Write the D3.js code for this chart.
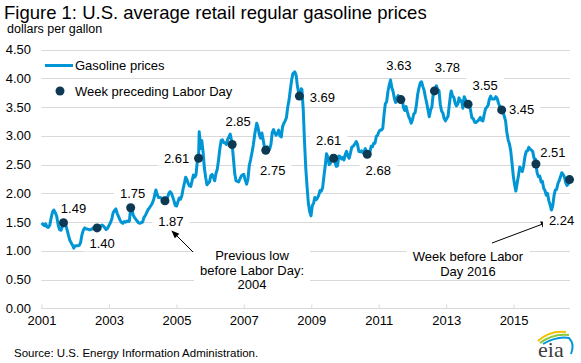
<!DOCTYPE html>
<html>
<head>
<meta charset="utf-8">
<script src="https://cdn.jsdelivr.net/npm/d3@7"></script>
<style>
  html, body { margin: 0; padding: 0; background: #fff; }
  svg { display: block; font-family: "Liberation Sans", Arial, sans-serif; }
</style>
</head>
<body>
<svg id="chart" width="581" height="363"></svg>
<script>
/* Figure 1: U.S. average retail regular gasoline prices */

// weekly price series (roughly semi-monthly)
const priceDates = [
  "2001-01-01","2001-01-15","2001-02-01","2001-02-15","2001-03-01","2001-03-15","2001-04-01","2001-04-15",
  "2001-05-01","2001-05-14","2001-06-01","2001-06-15","2001-07-01","2001-07-15","2001-08-01","2001-08-13",
  "2001-08-27","2001-09-10","2001-09-24","2001-10-08","2001-10-22","2001-11-05","2001-11-19","2001-12-03",
  "2001-12-17","2002-01-01","2002-01-15","2002-02-01","2002-02-15","2002-03-01","2002-03-15","2002-04-01",
  "2002-04-15","2002-05-01","2002-05-15","2002-06-01","2002-06-15","2002-07-01","2002-07-15","2002-08-01",
  "2002-08-15","2002-08-26","2002-09-09","2002-09-23","2002-10-07","2002-10-21","2002-11-04","2002-11-18",
  "2002-12-02","2002-12-16","2003-01-01","2003-01-15","2003-02-01","2003-02-15","2003-03-01","2003-03-17",
  "2003-04-01","2003-04-15","2003-05-01","2003-05-15","2003-06-01","2003-06-15","2003-07-01","2003-07-15",
  "2003-08-01","2003-08-11","2003-08-25","2003-09-08","2003-09-22","2003-10-06","2003-10-20","2003-11-03",
  "2003-11-17","2003-12-01","2003-12-15","2004-01-01","2004-01-15","2004-02-01","2004-02-15","2004-03-01",
  "2004-03-15","2004-04-01","2004-04-15","2004-05-01","2004-05-24","2004-06-07","2004-06-21","2004-07-05",
  "2004-07-19","2004-08-02","2004-08-16","2004-08-30","2004-09-13","2004-09-27","2004-10-11","2004-10-25",
  "2004-11-08","2004-11-22","2004-12-06","2004-12-20","2005-01-03","2005-01-17","2005-02-01","2005-02-15",
  "2005-03-01","2005-03-15","2005-04-01","2005-04-11","2005-04-25","2005-05-09","2005-05-23","2005-06-06",
  "2005-06-20","2005-07-04","2005-07-18","2005-08-01","2005-08-15","2005-08-29","2005-09-05","2005-09-12",
  "2005-09-19","2005-09-26","2005-10-03","2005-10-17","2005-10-31","2005-11-14","2005-11-28","2005-12-12",
  "2005-12-26","2006-01-09","2006-01-23","2006-02-06","2006-02-20","2006-03-06","2006-03-20","2006-04-03",
  "2006-04-17","2006-05-01","2006-05-15","2006-05-29","2006-06-12","2006-06-26","2006-07-10","2006-07-24",
  "2006-08-07","2006-08-21","2006-08-28","2006-09-11","2006-09-25","2006-10-09","2006-10-23","2006-11-06",
  "2006-11-20","2006-12-04","2006-12-18","2007-01-01","2007-01-15","2007-02-01","2007-02-15","2007-03-01",
  "2007-03-15","2007-04-01","2007-04-15","2007-05-01","2007-05-21","2007-06-04","2007-06-18","2007-07-02",
  "2007-07-16","2007-07-30","2007-08-13","2007-08-27","2007-09-10","2007-09-24","2007-10-08","2007-10-22",
  "2007-11-05","2007-11-19","2007-12-03","2007-12-17","2008-01-01","2008-01-14","2008-01-28","2008-02-11",
  "2008-02-25","2008-03-10","2008-03-24","2008-04-07","2008-04-21","2008-05-05","2008-05-19","2008-06-02",
  "2008-06-16","2008-07-07","2008-07-21","2008-08-04","2008-08-18","2008-08-25","2008-09-08","2008-09-15",
  "2008-09-22","2008-10-06","2008-10-20","2008-11-03","2008-11-17","2008-12-01","2008-12-15","2008-12-29",
  "2009-01-12","2009-01-26","2009-02-09","2009-02-23","2009-03-09","2009-03-23","2009-04-06","2009-04-20",
  "2009-05-04","2009-05-18","2009-06-01","2009-06-15","2009-06-29","2009-07-13","2009-07-27","2009-08-10",
  "2009-08-24","2009-08-31","2009-09-14","2009-09-28","2009-10-12","2009-10-26","2009-11-09","2009-11-23",
  "2009-12-07","2009-12-21","2010-01-04","2010-01-18","2010-02-01","2010-02-15","2010-03-01","2010-03-15",
  "2010-04-05","2010-04-19","2010-05-03","2010-05-17","2010-05-31","2010-06-14","2010-06-28","2010-07-12",
  "2010-07-26","2010-08-09","2010-08-23","2010-08-30","2010-09-13","2010-09-27","2010-10-11","2010-10-25",
  "2010-11-08","2010-11-22","2010-12-06","2010-12-20","2011-01-03","2011-01-17","2011-01-31","2011-02-14",
  "2011-02-28","2011-03-14","2011-03-28","2011-04-11","2011-04-25","2011-05-09","2011-05-23","2011-06-06",
  "2011-06-20","2011-07-04","2011-07-18","2011-08-01","2011-08-15","2011-08-29","2011-09-12","2011-09-26",
  "2011-10-10","2011-10-24","2011-11-07","2011-11-21","2011-12-05","2011-12-19","2012-01-02","2012-01-16",
  "2012-01-30","2012-02-13","2012-02-27","2012-03-12","2012-03-26","2012-04-09","2012-04-23","2012-05-07",
  "2012-05-21","2012-06-04","2012-06-18","2012-07-02","2012-07-16","2012-07-30","2012-08-13","2012-08-27",
  "2012-09-10","2012-09-17","2012-10-01","2012-10-15","2012-10-29","2012-11-12","2012-11-26","2012-12-10",
  "2012-12-24","2013-01-07","2013-01-21","2013-02-04","2013-02-18","2013-02-25","2013-03-11","2013-03-25",
  "2013-04-08","2013-04-22","2013-05-06","2013-05-20","2013-06-03","2013-06-17","2013-07-01","2013-07-15",
  "2013-07-29","2013-08-12","2013-08-26","2013-09-09","2013-09-23","2013-10-07","2013-10-21","2013-11-04",
  "2013-11-18","2013-12-02","2013-12-16","2014-01-06","2014-01-20","2014-02-03","2014-02-17","2014-03-03",
  "2014-03-17","2014-03-31","2014-04-14","2014-04-28","2014-05-12","2014-05-26","2014-06-09","2014-06-23",
  "2014-07-07","2014-07-21","2014-08-04","2014-08-18","2014-08-25","2014-09-08","2014-09-22","2014-10-06",
  "2014-10-20","2014-11-03","2014-11-17","2014-12-01","2014-12-15","2014-12-29","2015-01-12","2015-01-26",
  "2015-02-09","2015-02-23","2015-03-09","2015-03-23","2015-04-06","2015-04-20","2015-05-04","2015-05-18",
  "2015-06-01","2015-06-15","2015-06-29","2015-07-13","2015-07-27","2015-08-10","2015-08-24","2015-08-31",
  "2015-09-14","2015-09-28","2015-10-12","2015-10-26","2015-11-09","2015-11-23","2015-12-07","2015-12-21",
  "2016-01-04","2016-01-18","2016-02-01","2016-02-15","2016-02-29","2016-03-14","2016-03-28","2016-04-11",
  "2016-04-25","2016-05-09","2016-05-23","2016-06-06","2016-06-20","2016-07-04","2016-07-18","2016-08-01",
  "2016-08-15","2016-08-29"
];
const priceValues = [
  1.45,1.47,1.44,1.47,1.42,1.41,1.45,1.57,
  1.68,1.71,1.66,1.60,1.45,1.37,1.36,1.42,
  1.49,1.52,1.43,1.35,1.26,1.18,1.14,1.10,
  1.05,1.09,1.09,1.09,1.10,1.15,1.28,1.37,
  1.40,1.38,1.38,1.37,1.37,1.38,1.40,1.39,
  1.38,1.40,1.40,1.40,1.44,1.45,1.43,1.40,
  1.37,1.39,1.44,1.48,1.55,1.66,1.70,1.73,
  1.65,1.60,1.54,1.50,1.48,1.51,1.50,1.52,
  1.51,1.52,1.75,1.71,1.62,1.58,1.55,1.52,
  1.49,1.48,1.49,1.50,1.58,1.62,1.67,1.72,
  1.75,1.79,1.83,1.90,2.06,1.98,1.93,1.93,
  1.92,1.90,1.88,1.87,1.86,1.93,2.00,2.03,
  2.00,1.94,1.87,1.79,1.78,1.85,1.92,1.90,
  1.96,2.08,2.20,2.28,2.24,2.17,2.13,2.12,
  2.22,2.32,2.28,2.32,2.55,2.61,3.07,2.96,
  2.78,2.80,2.92,2.72,2.44,2.28,2.15,2.18,
  2.20,2.31,2.33,2.28,2.22,2.35,2.42,2.59,
  2.78,2.92,2.93,2.88,2.88,2.85,2.94,2.98,
  3.03,2.92,2.85,2.60,2.34,2.22,2.21,2.20,
  2.25,2.30,2.32,2.33,2.24,2.16,2.25,2.48,
  2.58,2.72,2.85,3.04,3.22,3.15,3.02,2.96,
  3.05,2.93,2.80,2.75,2.81,2.80,2.77,2.85,
  3.06,3.11,3.05,3.01,3.05,3.10,3.00,2.98,
  3.16,3.22,3.26,3.32,3.50,3.62,3.80,3.97,
  4.08,4.11,4.05,3.86,3.75,3.69,3.66,3.82,
  3.80,3.45,2.88,2.42,2.10,1.82,1.68,1.61,
  1.79,1.83,1.93,1.89,1.92,1.97,2.05,2.04,
  2.10,2.30,2.48,2.69,2.63,2.50,2.52,2.65,
  2.63,2.61,2.54,2.47,2.48,2.65,2.64,2.60,
  2.62,2.58,2.68,2.73,2.65,2.61,2.70,2.80,
  2.83,2.86,2.90,2.85,2.73,2.72,2.74,2.71,
  2.73,2.78,2.69,2.68,2.71,2.71,2.82,2.81,
  2.87,2.87,2.99,3.01,3.07,3.10,3.10,3.13,
  3.37,3.56,3.59,3.77,3.88,3.97,3.84,3.77,
  3.65,3.58,3.66,3.70,3.60,3.63,3.65,3.49,
  3.44,3.51,3.42,3.34,3.29,3.22,3.28,3.38,
  3.40,3.53,3.72,3.83,3.92,3.94,3.86,3.79,
  3.67,3.57,3.45,3.33,3.45,3.50,3.72,3.78,
  3.85,3.87,3.80,3.79,3.55,3.43,3.40,3.30,
  3.26,3.30,3.34,3.54,3.73,3.78,3.69,3.67,
  3.57,3.52,3.55,3.66,3.60,3.61,3.48,3.68,
  3.63,3.53,3.55,3.56,3.43,3.31,3.30,3.24,
  3.23,3.25,3.27,3.32,3.27,3.26,3.37,3.47,
  3.50,3.53,3.64,3.69,3.64,3.64,3.64,3.68,
  3.65,3.57,3.51,3.45,3.45,3.43,3.34,3.26,
  3.06,2.93,2.86,2.74,2.53,2.30,2.15,2.04,
  2.18,2.31,2.46,2.42,2.38,2.48,2.64,2.73,
  2.74,2.80,2.77,2.75,2.73,2.61,2.60,2.51,
  2.35,2.29,2.30,2.20,2.21,2.09,2.05,1.97,
  2.00,1.87,1.80,1.71,1.78,1.96,2.06,2.07,
  2.17,2.22,2.29,2.36,2.33,2.29,2.19,2.14,
  2.16,2.24
];

// week preceding Labor Day
const laborDates = [
  "2001-08-27","2002-08-26","2003-08-25","2004-08-30","2005-08-29","2006-08-28","2007-08-27","2008-08-25",
  "2009-08-31","2010-08-30","2011-08-29","2012-08-27","2013-08-26","2014-08-25","2015-08-31","2016-08-29"
];
const laborPrices = [1.49,1.40,1.75,1.87,2.61,2.85,2.75,3.69,2.61,2.68,3.63,3.78,3.55,3.45,2.51,2.24];
// where each value label sits relative to its dot (dx, dy)
const labelOffsets = [
  [10,-14],[5,16],[2,-14],[6,21],[-22,0],[6,-23],[7,20],[23,1],
  [-5,-18],[11,16],[-2,-34],[13,-23],[17,-19],[20,0],[17,-12],[-8,41]
];

const yTicks = [0, 0.5, 1, 1.5, 2, 2.5, 3, 3.5, 4, 4.5];
const xTickYears = [2001, 2003, 2005, 2007, 2009, 2011, 2013, 2015];

const parse = d3.timeParse("%Y-%m-%d");
const series = priceDates.map((d, i) => ({ date: parse(d), value: priceValues[i] }));
const laborPts = laborDates.map((d, i) => ({ date: parse(d), value: laborPrices[i], off: labelOffsets[i] }));

const svg = d3.select("#chart");
const lineColor = "#0096d6";
const dotColor = "#0d3a52";
const gridColor = "#d9d9d9";

const x = d3.scaleTime()
  .domain([new Date(2001, 0, 1), new Date(2016, 8, 3)])
  .range([41.5, 570]);
const y = d3.scaleLinear()
  .domain([0, 4.5])
  .range([308.5, 49.5]);

// title
svg.append("text")
  .attr("x", 4).attr("y", 18.5)
  .attr("font-size", 18.5).attr("fill", "#000")
  .text("Figure 1: U.S. average retail regular gasoline prices");
svg.append("text")
  .attr("x", 7).attr("y", 33)
  .attr("font-size", 12.5).attr("fill", "#000")
  .text("dollars per gallon");

// gridlines
svg.append("g")
  .selectAll("line")
  .data(yTicks.slice(1))
  .join("line")
  .attr("x1", 41.5).attr("x2", 570)
  .attr("y1", d => Math.round(y(d)) + 0.5)
  .attr("y2", d => Math.round(y(d)) + 0.5)
  .attr("stroke", gridColor).attr("stroke-width", 1);

// y axis labels
svg.append("g")
  .selectAll("text")
  .data(yTicks)
  .join("text")
  .attr("x", 31).attr("y", d => y(d) + 4.5)
  .attr("text-anchor", "end")
  .attr("font-size", 13).attr("fill", "#000")
  .text(d => d3.format(".2f")(d));

// x axis
const xAxis = d3.axisBottom(x)
  .tickValues(xTickYears.map(yr => new Date(yr, 0, 1)))
  .tickFormat(d3.timeFormat("%Y"))
  .tickSize(4)
  .tickSizeOuter(0);

const gx = svg.append("g")
  .attr("transform", "translate(0,308.5)")
  .call(xAxis);
gx.select(".domain").attr("stroke", gridColor).attr("d", "M41.5,0H570");
gx.selectAll(".tick line").attr("stroke", gridColor).attr("y1", -4).attr("y2", 0);
gx.selectAll(".tick text")
  .attr("font-family", "Liberation Sans, Arial, sans-serif")
  .attr("font-size", 13).attr("fill", "#000").attr("dy", "0.71em").attr("y", 7);

// annotation text boxes (white behind, hide gridlines)
function boxedText(g, lines, cx, cy, lineH) {
  const grp = g.append("g");
  const rect = grp.append("rect").attr("fill", "#fff");
  const t = grp.append("text")
    .attr("text-anchor", "middle")
    .attr("font-size", 13).attr("fill", "#000");
  lines.forEach((s, i) => {
    t.append("tspan")
      .attr("x", cx)
      .attr("y", cy + (i - (lines.length - 1) / 2) * lineH + 4.5)
      .text(s);
  });
  const bb = t.node().getBBox();
  rect.attr("x", bb.x - 6).attr("y", bb.y)
    .attr("width", bb.width + 12).attr("height", bb.height);
  return grp;
}

const ann = svg.append("g");
boxedText(ann, ["Previous low", "before Labor Day:", "2004"], 252, 270, 14.5);
boxedText(ann, ["Week before Labor", "Day 2016"], 468, 264, 14.5);

// arrows
const defs = svg.append("defs");
defs.append("marker")
  .attr("id", "arrow")
  .attr("viewBox", "0 0 10 10")
  .attr("refX", 9).attr("refY", 5)
  .attr("markerWidth", 8).attr("markerHeight", 8)
  .attr("orient", "auto")
  .append("path")
  .attr("d", "M0,1L10,5L0,9Z")
  .attr("fill", "#000");

const arrowFrom = [[193, 252], [492, 243]];
const arrowTo = [[172, 231], [548, 222]];
svg.append("g")
  .selectAll("line")
  .data(arrowFrom)
  .join("line")
  .attr("x1", d => d[0]).attr("y1", d => d[1])
  .attr("x2", (d, i) => arrowTo[i][0]).attr("y2", (d, i) => arrowTo[i][1])
  .attr("stroke", "#000").attr("stroke-width", 1)
  .attr("marker-end", "url(#arrow)");

// value labels for each Labor Day point
const lbl = svg.append("g");
laborPts.forEach(p => {
  boxedText(lbl, [p.value.toFixed(2)], x(p.date) + p.off[0], y(p.value) + p.off[1], 14);
});

// price line
const line = d3.line()
  .x(d => x(d.date))
  .y(d => y(d.value))
  .curve(d3.curveLinear);

svg.append("path")
  .datum(series)
  .attr("fill", "none")
  .attr("stroke", lineColor)
  .attr("stroke-width", 3)
  .attr("stroke-linejoin", "round")
  .attr("d", line);

// dots
svg.append("g")
  .selectAll("circle")
  .data(laborPts)
  .join("circle")
  .attr("cx", d => x(d.date))
  .attr("cy", d => y(d.value))
  .attr("r", 4.5)
  .attr("fill", dotColor);

// legend
const leg = svg.append("g");
leg.append("line")
  .attr("x1", 45).attr("x2", 73).attr("y1", 65.5).attr("y2", 65.5)
  .attr("stroke", lineColor).attr("stroke-width", 3);
leg.append("text")
  .attr("x", 75).attr("y", 70)
  .attr("font-size", 13).attr("fill", "#000")
  .text("Gasoline prices");
leg.append("circle")
  .attr("cx", 60).attr("cy", 91).attr("r", 4.5).attr("fill", dotColor);
leg.append("text")
  .attr("x", 75).attr("y", 95.5)
  .attr("font-size", 13).attr("fill", "#000")
  .text("Week preceding Labor Day");

// source
svg.append("text")
  .attr("x", 14).attr("y", 357)
  .attr("font-size", 11.5).attr("fill", "#000")
  .text("Source: U.S. Energy Information Administration.");

// eia logo
const logo = svg.append("g");
logo.append("path")
  .attr("d", "M538,341 Q550,330 566,332")
  .attr("fill", "none").attr("stroke", "#f2c200").attr("stroke-width", 2);
logo.append("path")
  .attr("d", "M540,343 Q553,333 569,335")
  .attr("fill", "none").attr("stroke", "#8cc63e").attr("stroke-width", 2);
logo.append("path")
  .attr("d", "M543,344 Q557,336 569,338 Q575,344 571,354")
  .attr("fill", "none").attr("stroke", "#0098d8").attr("stroke-width", 2);
logo.append("text")
  .attr("x", 538).attr("y", 357)
  .attr("font-family", "Liberation Serif, DejaVu Serif, serif")
  .attr("font-size", 22).attr("fill", "#3d3d3d")
  .text("eia");
</script>
</body>
</html>
